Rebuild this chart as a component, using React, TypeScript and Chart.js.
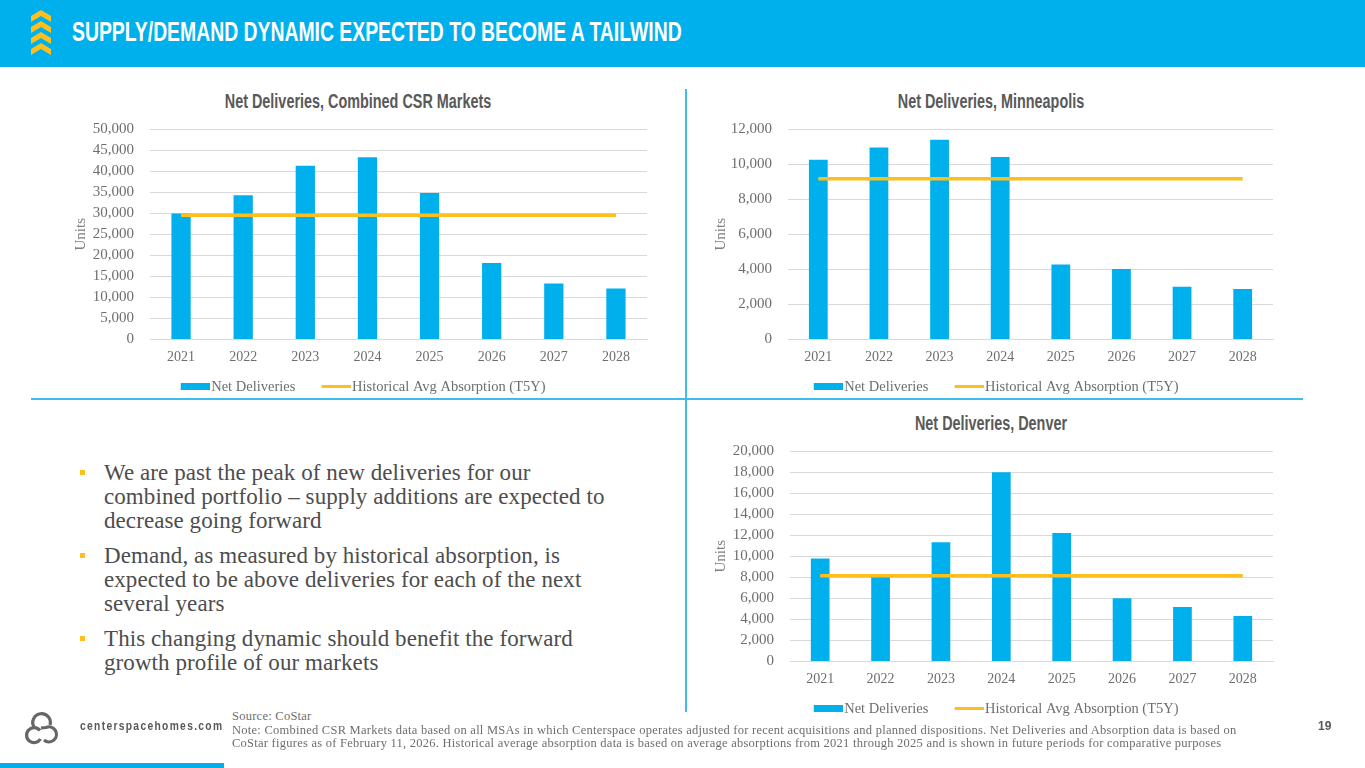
import React, { useEffect, useRef } from "react";
import { Chart, registerables } from "chart.js";

Chart.register(...registerables);

const years = ["2021", "2022", "2023", "2024", "2025", "2026", "2027", "2028"];
const combinedDeliveries = [29900, 34250, 41300, 43270, 34800, 18200, 13300, 12100];
const combinedAbsorption = [29500, 29500, 29500, 29500, 29500, 29500, 29500, 29500];
const minneapolisDeliveries = [10250, 10950, 11390, 10400, 4270, 4020, 3010, 2880];
const minneapolisAbsorption = [9160, 9160, 9160, 9160, 9160, 9160, 9160, 9160];
const denverDeliveries = [9790, 8050, 11320, 17970, 12210, 6010, 5180, 4320];
const denverAbsorption = [8140, 8140, 8140, 8140, 8140, 8140, 8140, 8140];

const headerTitle = "SUPPLY/DEMAND DYNAMIC EXPECTED TO BECOME A TAILWIND";
const bullets = [
  ["We are past the peak of new deliveries for our", "combined portfolio – supply additions are expected to", "decrease going forward"],
  ["Demand, as measured by historical absorption, is", "expected to be above deliveries for each of the next", "several years"],
  ["This changing dynamic should benefit the forward", "growth profile of our markets"],
];
const notes = [
  "Source: CoStar",
  "Note: Combined CSR Markets data based on all MSAs in which Centerspace operates adjusted for recent acquisitions and planned dispositions. Net Deliveries and Absorption data is based on",
  "CoStar figures as of February 11, 2026. Historical average absorption data is based on average absorptions from 2021 through 2025 and is shown in future periods for comparative purposes",
];

const BLUE = "#00B0EC";
const YELLOW = "#FDBF1E";
const GREY = "#6E6E6E";
const SERIF = '"Liberation Serif", serif';
const SANS = '"Liberation Sans", sans-serif';

// Legend key: a 29px swatch at the right end of a wider transparent canvas, so the
// key sits next to its text while the gap between legend items stays wide.
function swatch(h: number, color: string) {
  const c = document.createElement("canvas");
  c.width = 46;
  c.height = h;
  const x = c.getContext("2d")!;
  x.fillStyle = color;
  x.fillRect(17, 0, 29, h);
  return c;
}

type Box = {
  bars: number[]; line: number[]; max: number; step: number;
  left: number; top: number; width: number; height: number; plotLeft: number; plotRight: number;
};

function MiniChart(p: Box) {
  const ref = useRef<HTMLCanvasElement>(null);
  useEffect(() => {
    const chart = new Chart(ref.current!, {
      data: {
        labels: years,
        datasets: [
          { type: "line" as const, label: "Historical Avg Absorption (T5Y)", data: p.line, borderColor: YELLOW, backgroundColor: YELLOW, borderWidth: 3.5, pointRadius: 0, order: 1 },
          { type: "bar" as const, label: "Net Deliveries", data: p.bars, backgroundColor: BLUE, categoryPercentage: 1, barPercentage: 0.31, order: 2 },
        ],
      },
      options: {
        responsive: false,
        animation: false,
        layout: { padding: { right: p.left + p.width - p.plotRight, top: 39, bottom: 0 } },
        plugins: {
          tooltip: { enabled: false },
          title: { display: false },
          legend: {
            position: "bottom",
            labels: {
              usePointStyle: true, pointStyleWidth: 34.5, boxHeight: 7, padding: 15,
              color: GREY, font: { family: SERIF, size: 14.5 },
              generateLabels: () => [
                { text: "Net Deliveries", pointStyle: swatch(7, BLUE), datasetIndex: 1, fillStyle: BLUE, strokeStyle: BLUE, lineWidth: 0, fontColor: GREY },
                { text: "Historical Avg Absorption (T5Y)", pointStyle: swatch(3, YELLOW), datasetIndex: 0, fillStyle: YELLOW, strokeStyle: YELLOW, lineWidth: 0, fontColor: GREY },
              ] as any,
            },
          },
        },
        scales: {
          x: {
            grid: { display: false, drawTicks: false },
            border: { color: "#D9D9D9" },
            ticks: { color: GREY, font: { family: SERIF, size: 14 }, padding: 9, maxRotation: 0 },
            afterFit: (s: any) => { s.height = 25; },
          },
          y: {
            min: 0, max: p.max,
            grid: { color: "#D9D9D9", drawTicks: false },
            border: { display: false },
            title: { display: true, text: "Units", color: "#7F7F7F", font: { family: SERIF, size: 15 }, padding: { top: 4, bottom: 0 } },
            ticks: { stepSize: p.step, autoSkip: false, color: GREY, font: { family: SERIF, size: 15 }, padding: 16, callback: (v: any) => Number(v).toLocaleString("en-US") },
            afterFit: (s: any) => { s.width = p.plotLeft - p.left; },
          },
        },
      },
    } as any);
    return () => chart.destroy();
  }, []);
  return <canvas ref={ref} width={p.width} height={p.height} style={{ position: "absolute", left: p.left, top: p.top, width: p.width, height: p.height }} />;
}

function abs(left: number, top: number, width: number, height: number, background: string): React.CSSProperties {
  return { position: "absolute", left, top, width, height, background };
}

function ChartTitle({ text, cx, y }: { text: string; cx: number; y: number }) {
  return (
    <div style={{ position: "absolute", left: cx - 300, top: y, width: 600, textAlign: "center", color: "#595959", fontFamily: SANS, fontWeight: 700, fontSize: 20, lineHeight: "24px", transform: "scaleX(0.72)", whiteSpace: "nowrap" }}>{text}</div>
  );
}

export default function App() {
  const bulletTops = [[460, 484, 508], [543, 567, 591], [626, 650]];
  return (
    <div style={{ position: "fixed", left: 0, top: 0, width: 1365, height: 768, background: "#fff", overflow: "hidden", fontFamily: SERIF }}>
      <div style={abs(0, 0, 1365, 67, BLUE)} />
      <svg style={{ position: "absolute", left: 0, top: 0 }} width={70} height={60}>
        {[10, 21, 32, 43].map((y) => (
          <polygon key={y} fill={YELLOW} points={`41,${y} 51,${y + 6} 51,${y + 12} 41,${y + 6} 31,${y + 12} 31,${y + 6}`} />
        ))}
      </svg>
      <div style={{ position: "absolute", left: 72, top: 15, color: "#fff", fontFamily: SANS, fontWeight: 700, fontSize: 28, lineHeight: "34px", whiteSpace: "nowrap", transform: "scaleX(0.692)", transformOrigin: "left" }}>{headerTitle}</div>

      <div style={abs(685, 89, 2, 623, "#3DBDEB")} />
      <div style={abs(31, 398, 1272, 2, "#3DBDEB")} />

      <ChartTitle text="Net Deliveries, Combined CSR Markets" cx={358} y={89} />
      <ChartTitle text="Net Deliveries, Minneapolis" cx={991} y={89} />
      <ChartTitle text="Net Deliveries, Denver" cx={991} y={411} />

      <MiniChart bars={combinedDeliveries} line={combinedAbsorption} max={50000} step={5000} left={68} top={90} width={581} height={314} plotLeft={150} plotRight={647} />
      <MiniChart bars={minneapolisDeliveries} line={minneapolisAbsorption} max={12000} step={2000} left={708} top={90} width={567} height={314} plotLeft={788} plotRight={1273} />
      <MiniChart bars={denverDeliveries} line={denverAbsorption} max={20000} step={2000} left={708} top={412} width={567} height={314} plotLeft={790} plotRight={1273} />

      {bullets.map((group, i) => (
        <React.Fragment key={i}>
          <div style={abs(80, bulletTops[i][0] + 10, 5, 5, YELLOW)} />
          {group.map((line, j) => (
            <div key={j} style={{ position: "absolute", left: 104, top: bulletTops[i][j], fontSize: 23, lineHeight: "26px", color: "#4D4D4D", whiteSpace: "nowrap", letterSpacing: 0.08 }}>{line}</div>
          ))}
        </React.Fragment>
      ))}

      {notes.map((n, i) => (
        <div key={i} style={{ position: "absolute", left: 232, top: [709, 723, 736][i], fontSize: 12.5, lineHeight: "15px", color: GREY, whiteSpace: "nowrap", letterSpacing: 0.25 }}>{n}</div>
      ))}

      <svg style={{ position: "absolute", left: 0, top: 0, pointerEvents: "none" }} width={70} height={768} fill="none" stroke="#666666" strokeWidth={3.2}>
        <path d="M34 727 A8.8 8.8 0 1 1 50 725" />
        <path d="M40 730.5 A7.5 7.5 0 1 0 40.5 739" />
        <path d="M41 728 L46 727.5 A7.5 7.5 0 1 1 44 740" />
      </svg>
      <div style={{ position: "absolute", left: 80, top: 719, fontFamily: SANS, fontWeight: 700, fontSize: 12, letterSpacing: 1.55, color: "#595959", whiteSpace: "nowrap", transform: "scaleX(0.855)", transformOrigin: "left" }}>centerspacehomes.com</div>
      <div style={{ position: "absolute", left: 1318, top: 719, fontFamily: SANS, fontWeight: 700, fontSize: 12, color: "#595959" }}>19</div>
      <div style={abs(0, 763, 224, 5, BLUE)} />
    </div>
  );
}
